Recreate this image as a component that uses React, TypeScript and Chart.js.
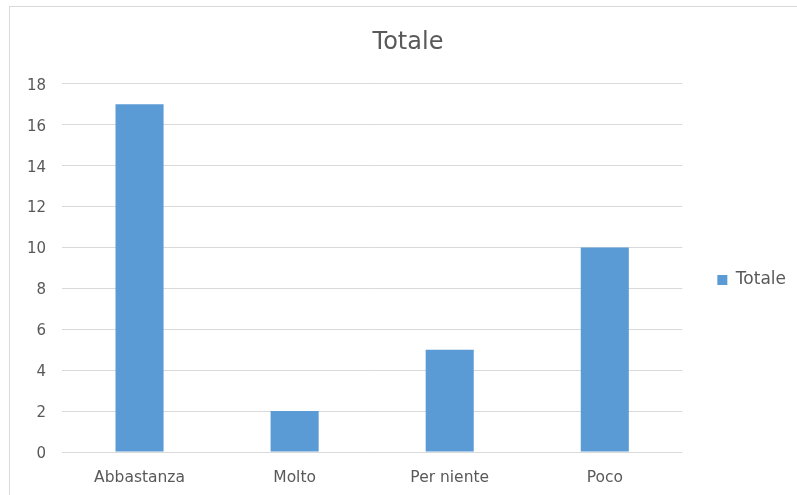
import React, { useEffect, useRef } from "react";
import { Chart, registerables } from "chart.js";

Chart.register(...registerables);

const categories = ["Abbastanza", "Molto", "Per niente", "Poco"];
const seriesName = "Totale";
const totals = [17, 2, 5, 10];
const chartTitle = "Totale";

const FONT = "'DejaVu Sans', 'Open Sans', sans-serif";
const TEXT = "#595959";
const GRID = "#d9d9d9";
const BAR = "#5b9bd5";

export default function App() {
  const ref = useRef<HTMLCanvasElement | null>(null);

  useEffect(() => {
    if (!ref.current) return;
    const chart = new Chart(ref.current, {
      type: "bar",
      data: {
        labels: categories,
        datasets: [
          {
            label: seriesName,
            data: totals,
            backgroundColor: BAR,
            borderWidth: 0,
            categoryPercentage: 1,
            barPercentage: 0.31,
          },
        ],
      },
      options: {
        responsive: false,
        animation: false,
        layout: { padding: { left: 20, right: 1, top: 0, bottom: 0 } },
        plugins: {
          title: {
            display: true,
            text: chartTitle,
            color: TEXT,
            font: { family: FONT, size: 24, weight: "normal" },
            padding: { top: 28, bottom: 27 },
          },
          legend: {
            position: "right",
            fullSize: false,
            title: { display: true, text: " ", padding: 0, font: { size: 20 } },
            labels: {
              color: TEXT,
              boxWidth: 10,
              boxHeight: 10,
              padding: 35,
              font: { family: FONT, size: 17 },
            },
          },
          tooltip: { enabled: false },
        },
        scales: {
          x: {
            grid: { display: false, drawTicks: false },
            border: { display: false },
            ticks: { color: TEXT, font: { family: FONT, size: 15.5 }, padding: 17 },
            afterFit: (s: any) => {
              s.height = 43;
            },
          },
          y: {
            min: 0,
            max: 18,
            ticks: {
              stepSize: 2,
              color: TEXT,
              font: { family: FONT, size: 15 },
              padding: 16,
              labelOffset: 2,
            },
            grid: { color: GRID, drawTicks: false },
            border: { display: false },
            afterFit: (s: any) => {
              s.width = 42;
            },
          },
        },
      },
    });
    return () => chart.destroy();
  }, []);

  return (
    <div style={{ position: "fixed", left: 0, top: 0, width: 797, height: 495, overflow: "hidden", background: "#fff" }}>
      <canvas ref={ref} width={797} height={495} style={{ position: "absolute", left: 0, top: 0 }} />
      <div
        style={{
          position: "absolute",
          left: 9,
          top: 6,
          width: 900,
          height: 600,
          border: "1px solid #d9d9d9",
          pointerEvents: "none",
        }}
      />
    </div>
  );
}
